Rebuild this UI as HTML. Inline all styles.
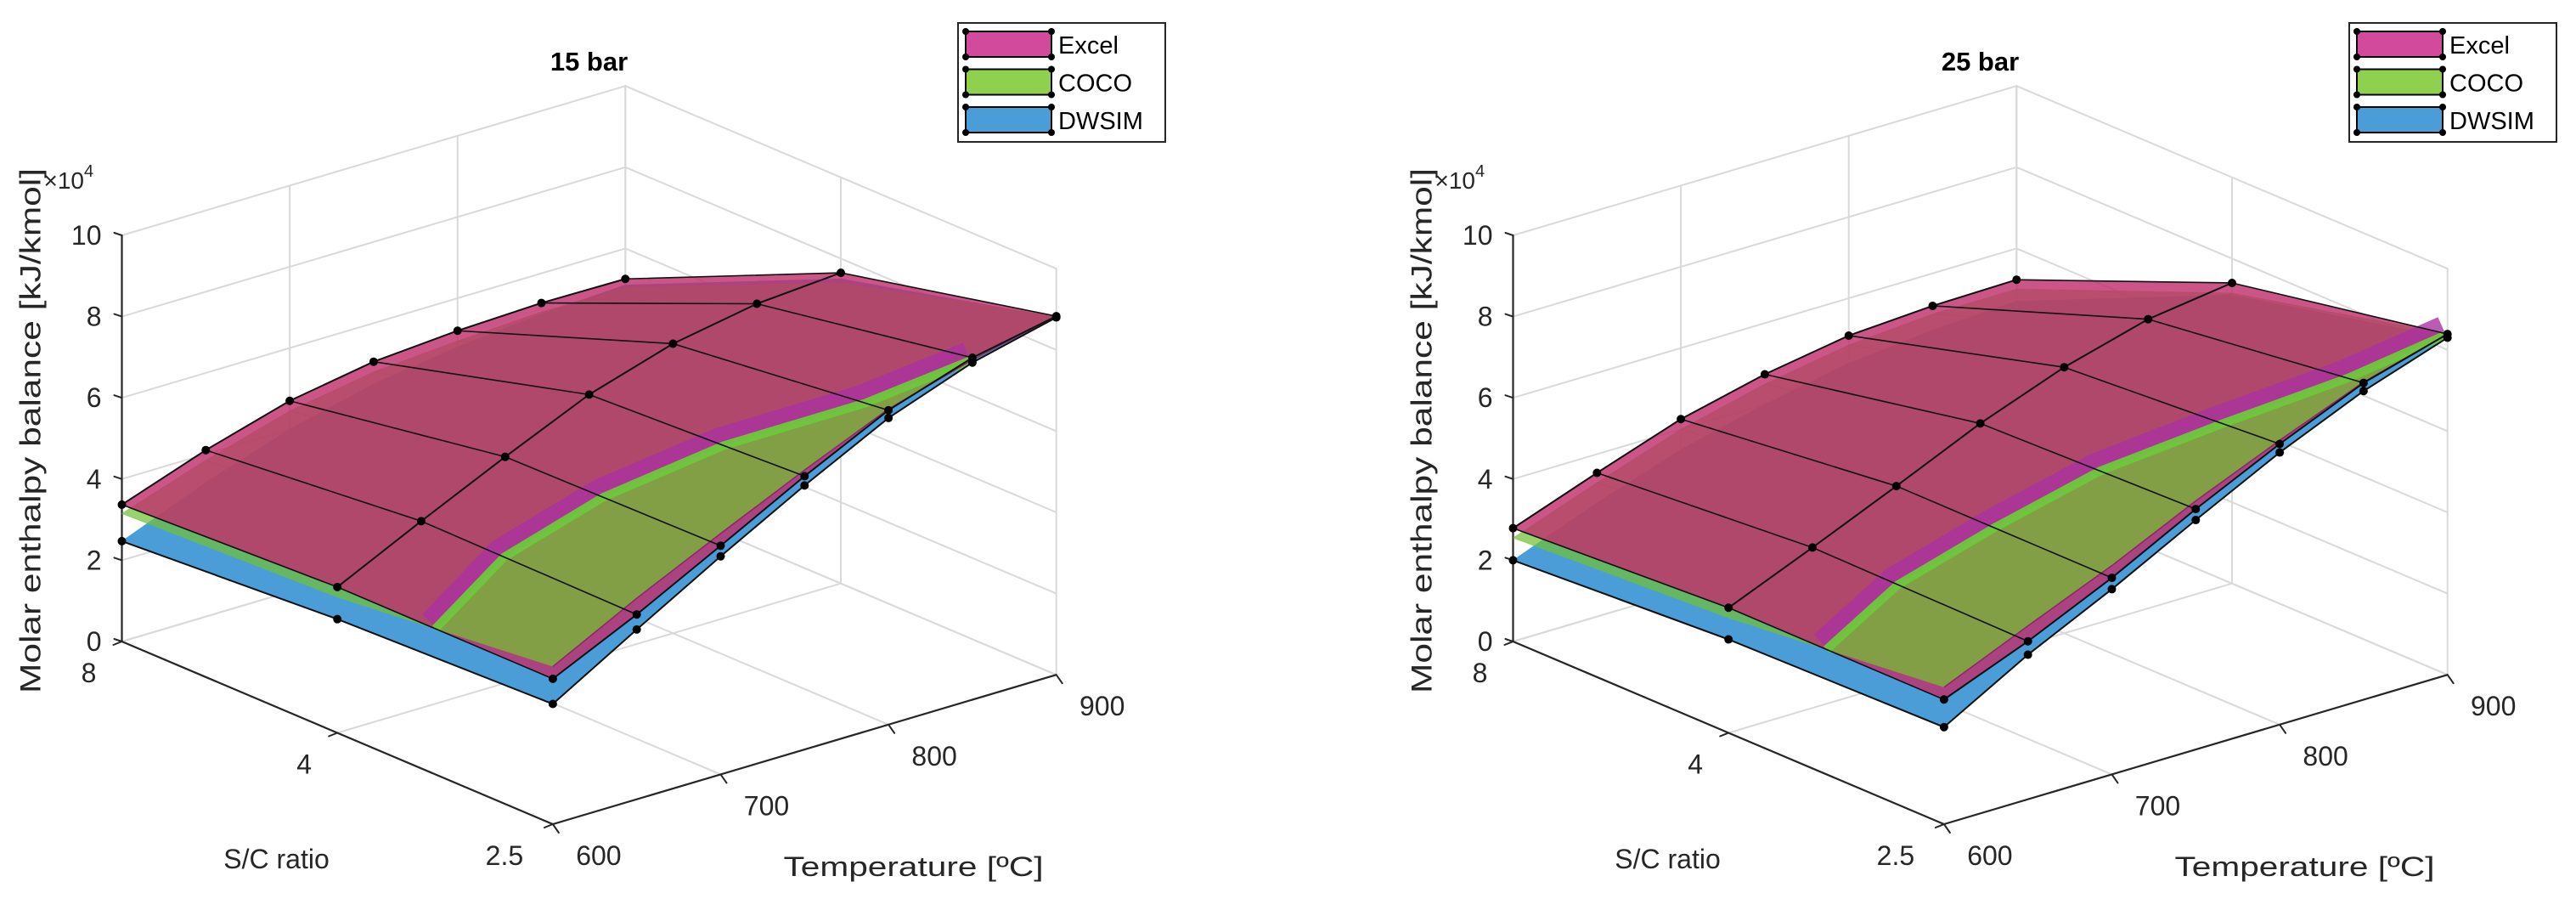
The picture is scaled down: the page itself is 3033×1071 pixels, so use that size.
<!DOCTYPE html>
<html><head><meta charset="utf-8">
<style>
html,body{margin:0;padding:0;background:#fff;}
svg{display:block;font-family:"Liberation Sans",Arial,sans-serif;}
</style></head>
<body>
<svg id="chart" width="3033" height="1071" viewBox="0 0 3033 1071" xmlns="http://www.w3.org/2000/svg"></svg>
<script>
// ---- data ----
const scRatios = ["8", "4", "2.5"];
const temps = [600, 650, 700, 750, 800, 850, 900];
const zTicks = [0, 2, 4, 6, 8, 10];
const tTicks = [600, 700, 800, 900];
const panelTitles = ["15 bar", "25 bar"];
const seriesNames = ["Excel", "COCO", "DWSIM"];
// values x1e4 kJ/kmol, rows: S/C = 8, 4, 2.5
const excel15 = [[3.37,4.1,4.7,5.05,5.2,5.27,5.25],[3.59,4.6,5.57,6.49,7.13,7.5,7.65],[3.58,4.55,5.63,6.73,7.74,8.42,8.83]];
const coco15  = [[3.15,3.85,4.45,4.8,4.95,5.05,5.05],[3.34,4.35,5.32,6.24,6.88,7.25,7.4],[3.88,4.95,5.93,6.88,7.77,8.37,8.83]];
const dwsim15 = [[2.47,3.3,4.0,4.5,4.8,5.0,5.1],[2.8,3.8,4.9,5.9,6.7,7.2,7.5],[2.96,4.18,5.37,6.5,7.55,8.3,8.8]];
const excel25 = [[2.79,3.54,4.25,4.74,5.08,5.2,5.23],[3.08,3.95,4.85,5.78,6.55,7.12,7.4],[3.07,3.89,4.84,5.92,6.91,7.8,8.39]];
const coco25  = [[2.55,3.3,4.0,4.5,4.85,5.0,5.0],[2.83,3.7,4.6,5.53,6.3,6.87,7.15],[3.37,4.27,5.14,6.12,7.0,7.82,8.39]];
const dwsim25 = [[2.0,2.8,3.5,4.0,4.4,4.6,4.7],[2.3,3.3,4.3,5.3,6.1,6.7,7.1],[2.39,3.56,4.56,5.65,6.7,7.6,8.3]];

const NS = "http://www.w3.org/2000/svg";
const svg = document.getElementById("chart");
function mk(tag, attrs, parent, text){
  const e = document.createElementNS(NS, tag);
  for (const k in attrs) e.setAttribute(k, attrs[k]);
  if (text !== undefined) e.textContent = text;
  (parent || svg).appendChild(e);
  return e;
}
const fills = ["rgba(192,48,108,0.82)", "rgba(112,192,56,0.72)", "rgba(74,157,215,1)"];
const legendFill = ["#d24a9c", "#8fd14f", "#4a9dd7"];

function drawPanel(pi, ox, surfaces){
  const g = mk("g", {});
  
  
  const oy = 755;
  const P = (s, T, z) => [ox + s*253.7 + (T-600)*1.976, oy + s*107.5 - (T-600)*0.586 - z*47.8];
  const line = (a, b, col, w, name) => {
    const l = mk("line", {x1:a[0], y1:a[1], x2:b[0], y2:b[1], stroke:col, "stroke-width":w, "stroke-linecap":"round"}, g);
    
    
  };
  const grid = "#d9d9d9";
  zTicks.forEach(z => {
    line(P(0,600,z), P(0,900,z), grid, 2, 'grid-z-back');
    line(P(0,900,z), P(2,900,z), grid, 2, 'grid-z-right');
  });
  tTicks.forEach(T => {
    line(P(0,T,0), P(0,T,10), grid, 2, 'grid-t-wall');
    line(P(0,T,0), P(2,T,0), grid, 2, 'grid-t-floor');
  });
  scRatios.forEach((s, si) => {
    line(P(si,900,0), P(si,900,10), grid, 2, 'grid-s-wall');
    line(P(si,600,0), P(si,900,0), grid, 2, 'grid-s-floor');
  });
  line(P(0,600,0), P(0,600,10), "#262626", 2.2, 'z-axis');
  line(P(0,600,0), P(2,600,0), "#262626", 2.2, 's-axis');
  line(P(2,600,0), P(2,900,0), "#262626", 2.2, 't-axis');
  zTicks.forEach(z => {
    const p = P(0,600,z);
    line(p, [p[0]-9, p[1]-3], "#262626", 2, 'z-tick');
    const t = mk("text", {x:p[0]-24, y:p[1]+11, "text-anchor":"end", "font-size":32, fill:"#262626"}, g, String(z));
    
    
  });
  scRatios.forEach((s, si) => {
    const p = P(si,600,0);
    line(p, [p[0]-10, p[1]+4], "#262626", 2, 's-tick');
    const t = mk("text", {x:p[0]-30-9*s.length, y:p[1]+48, "text-anchor":"middle", "font-size":32, fill:"#262626"}, g, s);
    
    
  });
  tTicks.forEach(T => {
    const p = P(2,T,0);
    line(p, [p[0]+7, p[1]+10], "#262626", 2, 't-tick');
    const t = mk("text", {x:p[0]+54, y:p[1]+48, "text-anchor":"middle", "font-size":32, fill:"#262626"}, g, String(T));
    
    
  });
  const pstr = pts => pts.map(p => p.join(",")).join(" ");
  [2, 1, 0].forEach(k => {
    const Z = surfaces[k];
    const cells = [];
    for (let s = 0; s < 2; s++) for (let i = 0; i < temps.length-1; i++) cells.push([s, i]);
    cells.sort((a, b) => (a[0] - a[1]*0.3) - (b[0] - b[1]*0.3));
    cells.forEach(([s, i]) => {
      const pts = [P(s,temps[i],Z[s][i]), P(s,temps[i+1],Z[s][i+1]), P(s+1,temps[i+1],Z[s+1][i+1]), P(s+1,temps[i],Z[s+1][i])];
      const poly = mk("polygon", {points:pstr(pts), fill:fills[k], stroke:fills[k], "stroke-width":0.6, "stroke-linejoin":"round"}, g);
      
      
    });
  });
  // COCO region lying above Excel (between S/C 4 and 2.5 rows)
  const exl = surfaces[0], co = surfaces[1], dw = surfaces[2];
  const fr = temps.map((T, i) => {
    const d1 = co[1][i] - exl[1][i], d2 = co[2][i] - exl[2][i];
    if (d2 <= 0) return 1;
    if (d1 >= 0) return 0;
    return d1 / (d1 - d2);
  });
  const cross = temps.map((T, i) => P(1 + fr[i], T, co[1][i] + (co[2][i] - co[1][i]) * fr[i]));
  let last = fr.findIndex(f => f >= 1);
  if (last < 0) last = temps.length - 1;
  const band = cross.slice(0, last + 1);
  const front = temps.map((T, i) => P(2, T, co[2][i])).reverse();
  const edge = mk("polyline", {points:pstr(band), fill:"none", stroke:"rgba(170,50,160,0.8)", "stroke-width":26, "stroke-linejoin":"round", transform:"translate(-6,-8)"}, g);
  
  
  const over = mk("polygon", {points:pstr(cross.concat(front)), fill:"rgba(112,192,56,0.72)", stroke:"none"}, g);
  
  
  const edge2 = mk("polyline", {points:pstr(band), fill:"none", stroke:"rgba(110,200,60,0.95)", "stroke-width":10, "stroke-linejoin":"round"}, g);
  
  

  const poly = (pts, col, w, name) => {
    const pl = mk("polyline", {points:pstr(pts), fill:"none", stroke:col, "stroke-width":w, "stroke-linejoin":"round"}, g);
    
    
  };
  poly(temps.map((T,i) => P(2,T,dw[2][i])), "#111", 2, 'dwsim-front-edge');
  poly(scRatios.map((s,si) => P(si,600,dw[si][0])), "#111", 2, 'dwsim-left-edge');
  poly(temps.map((T,i) => P(2,T,co[2][i])), "#8a2a66", 1.6, 'coco-front-edge');
  exl.forEach((row, s) => poly(temps.map((T,i) => P(s,T,row[i])), "#111", 2, 'excel-mesh-row'));
  temps.forEach((T, i) => poly(scRatios.map((s,si) => P(si,T,exl[si][i])), "#111", 1.6, 'excel-mesh-col'));
  surfaces.forEach((Z, k) => {
    if (k === 1) return;
    Z.forEach((row, s) => row.forEach((v, i) => {
      if (k === 2 && !(s === 2 || i === 0)) return;
      const p = P(s, temps[i], v);
      const c = mk("circle", {cx:p[0], cy:p[1], r:5, fill:"#000"}, g);
      
      
    }));
  });
  const tt = mk("text", {x:ox+550, y:83, "text-anchor":"middle", "font-size":31, "font-weight":"bold", fill:"#000"}, g, panelTitles[pi]);
  
  
  const zl = mk("text", {x:0, y:0, transform:`translate(${ox-96},507) rotate(-90)`, "text-anchor":"middle", "font-size":34, fill:"#262626", textLength:618, lengthAdjust:"spacingAndGlyphs"}, g, "Molar enthalpy balance [kJ/kmol]");
  
  
  const ex = mk("text", {x:ox-92, y:222, "font-size":28, fill:"#262626"}, g, "\u00d710");
  
  
  mk("tspan", {dy:-14, "font-size":20}, ex, "4");
  const sl = mk("text", {x:ox+182, y:1022, "text-anchor":"middle", "font-size":32, fill:"#262626"}, g, "S/C ratio");
  
  
  const tl = mk("text", {x:ox+932, y:1031, "text-anchor":"middle", "font-size":32, fill:"#262626", textLength:306, lengthAdjust:"spacingAndGlyphs"}, g, "Temperature [\u00baC]");
  
  
  const lx = ox + 984.5;
  const lg = mk("g", {}, g);
  
  
  mk("rect", {x:lx, y:27, width:244, height:140, fill:"#fff", stroke:"#262626", "stroke-width":2}, lg);
  seriesNames.forEach((n, k) => {
    const y0 = 37 + k*44.5;
    const e = mk("g", {}, lg);
    
    
    mk("rect", {x:lx+9, y:y0, width:101, height:30, fill:legendFill[k], stroke:"#000", "stroke-width":2}, e);
    [[lx+9,y0],[lx+110,y0],[lx+9,y0+30],[lx+110,y0+30]].forEach(p => mk("circle", {cx:p[0], cy:p[1], r:4, fill:"#000"}, e));
    mk("text", {x:lx+118, y:y0+26, "font-size":29, fill:"#000"}, e, n);
  });
}
drawPanel(0, 143.5, [excel15, coco15, dwsim15]);
drawPanel(1, 1781.5, [excel25, coco25, dwsim25]);
</script>
</body></html>
